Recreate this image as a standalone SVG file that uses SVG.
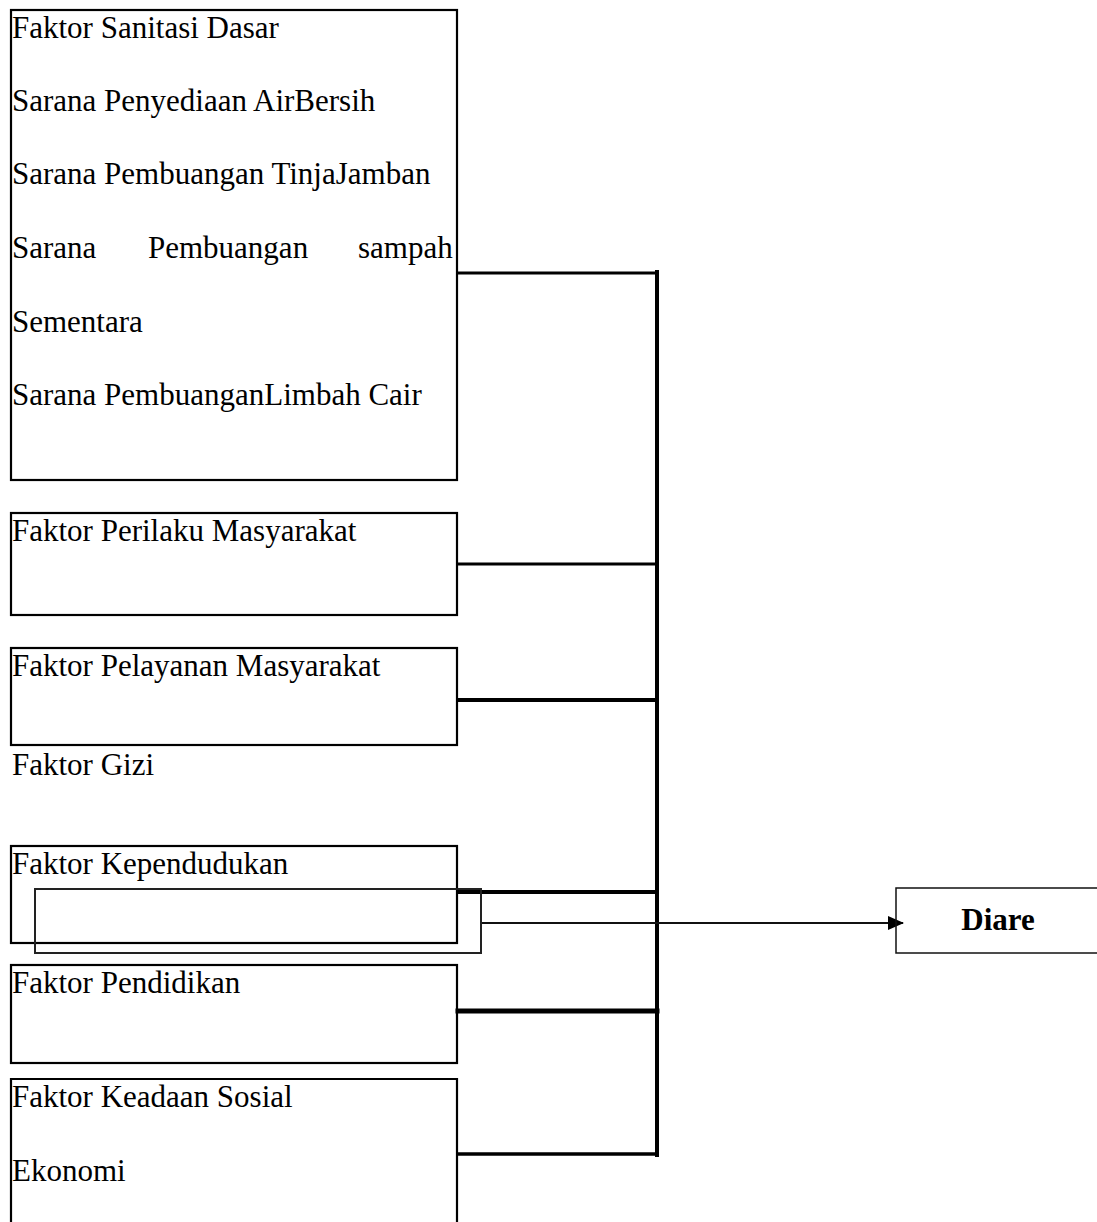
<svg xmlns="http://www.w3.org/2000/svg" width="1097" height="1222" viewBox="0 0 1097 1222">
<style>
.box{fill:none;stroke:#000;stroke-width:2.2}
.t{font-family:"Liberation Serif","Times New Roman",serif;font-size:31px;fill:#000}
.b{font-weight:bold}
.c{fill:none;stroke:#000;stroke-linecap:square}
</style>
<defs>
<marker id="arr" markerWidth="8" markerHeight="8" refX="7" refY="4" orient="auto" markerUnits="userSpaceOnUse" viewBox="0 0 8 8">
<path d="M0,0 L8,4 L0,8 Z" fill="#000"/>
</marker>
<marker id="arrow" viewBox="0 0 16 14" markerWidth="16" markerHeight="14" refX="15" refY="7" orient="auto" markerUnits="userSpaceOnUse">
<path d="M0,0 L16,7 L0,14 Z" fill="#000"/>
</marker>
</defs>
<rect width="1097" height="1222" fill="#fff"/>
<g id="connectors">
<line class="c" x1="458" y1="273" x2="657" y2="273" stroke-width="3"/>
<line class="c" x1="458" y1="564" x2="657" y2="564" stroke-width="3"/>
<line class="c" x1="458" y1="700" x2="657" y2="700" stroke-width="4"/>
<line class="c" x1="458" y1="892" x2="657" y2="892" stroke-width="4"/>
<line class="c" x1="458" y1="1011" x2="657" y2="1011" stroke-width="5"/>
<line class="c" x1="458" y1="1154" x2="657" y2="1154" stroke-width="3.5"/>
<line class="c" x1="657" y1="272" x2="657" y2="1155" stroke-width="4"/>
<line x1="481" y1="923" x2="903" y2="923" stroke="#111" stroke-width="2" marker-end="url(#arrow)"/>
</g>
<g id="sanitasi">
<rect class="box" x="11" y="10" width="446" height="470"/>
<text class="t" x="12" y="38">Faktor Sanitasi Dasar</text>
<text class="t" x="12" y="111">Sarana Penyediaan AirBersih</text>
<text class="t" x="12" y="184">Sarana Pembuangan TinjaJamban</text>
<text class="t" y="258"><tspan x="12">Sarana</tspan><tspan x="148">Pembuangan</tspan><tspan x="358">sampah</tspan></text>
<text class="t" x="12" y="332">Sementara</text>
<text class="t" x="12" y="405">Sarana PembuanganLimbah Cair</text>
</g>
<g id="perilaku">
<rect class="box" x="11" y="513" width="446" height="102"/>
<text class="t" x="12" y="541">Faktor Perilaku Masyarakat</text>
</g>
<g id="pelayanan">
<rect class="box" x="11" y="648" width="446" height="97"/>
<text class="t" x="12" y="676">Faktor Pelayanan Masyarakat</text>
</g>
<g id="gizi">
<text class="t" x="12" y="775">Faktor Gizi</text>
</g>
<g id="kependudukan">
<rect class="box" x="11" y="846" width="446" height="97"/>
<text class="t" x="12" y="874">Faktor Kependudukan</text>
</g>
<g id="inner">
<rect x="35" y="889" width="446" height="64" fill="none" stroke="#222" stroke-width="2"/>
</g>
<g id="pendidikan">
<rect class="box" x="11" y="965" width="446" height="98"/>
<text class="t" x="12" y="993">Faktor Pendidikan</text>
</g>
<g id="sosial">
<path class="box" d="M11,1230 V1079 H457 V1230"/>
<text class="t" x="12" y="1107">Faktor Keadaan Sosial</text>
<text class="t" x="12" y="1181">Ekonomi</text>
</g>
<g id="diare">
<rect x="896" y="888" width="220" height="65" fill="none" stroke="#111" stroke-width="1.5"/>
<text class="t b" x="998" y="930" text-anchor="middle">Diare</text>
</g>
</svg>
